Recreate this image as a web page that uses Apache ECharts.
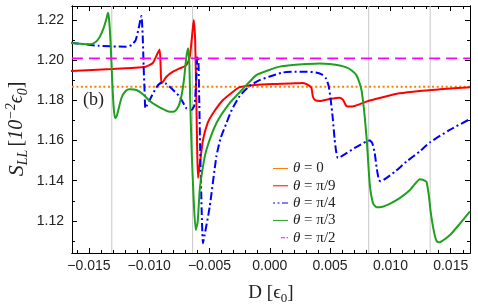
<!DOCTYPE html>
<html>
<head>
<meta charset="utf-8">
<script src="https://cdn.jsdelivr.net/npm/echarts@6/dist/echarts.min.js"></script>
<style>
  html, body { margin: 0; padding: 0; background: #fff; }
  #chart { width: 478px; height: 308px; }
</style>
</head>
<body>
<div id="chart"></div>
<script>
var xMajor = [-0.015, -0.01, -0.005, 0, 0.005, 0.01, 0.015];
var xMinor = [-0.016, -0.014, -0.013, -0.012, -0.011, -0.009, -0.008, -0.007, -0.006, -0.004, -0.003, -0.002, -0.001,
  0.001, 0.002, 0.003, 0.004, 0.006, 0.007, 0.008, 0.009, 0.011, 0.012, 0.013, 0.014, 0.016];
var yMajor = [1.12, 1.14, 1.16, 1.18, 1.2, 1.22];
var yMinor = [1.11, 1.13, 1.15, 1.17, 1.19, 1.21];
var vLines = [-0.0131, -0.0064, 0.0082, 0.0133];

var theta0 = 1.1868;
var theta90 = 1.2009;

var theta20 = [
  [-0.0165, 1.1946], [-0.0131, 1.1956], [-0.0103, 1.1968], [-0.0097, 1.1986], [-0.00929, 1.2036],
  [-0.00913, 1.2054], [-0.00905, 1.1968], [-0.00899, 1.1885], [-0.00885, 1.1893], [-0.00857, 1.1918],
  [-0.00803, 1.1943], [-0.00747, 1.1959], [-0.00692, 1.1976], [-0.00664, 1.2016], [-0.00648, 1.21],
  [-0.00631, 1.22], [-0.00619, 1.21], [-0.00609, 1.1802], [-0.00602, 1.1553], [-0.00595, 1.1414],
  [-0.00581, 1.1479], [-0.00554, 1.1603], [-0.00515, 1.1688], [-0.00471, 1.1736], [-0.00388, 1.1802],
  [-0.00305, 1.1843], [-0.0025, 1.1866], [-0.00125, 1.1877], [0.00027, 1.1882], [0.00165, 1.1884],
  [0.00275, 1.1887], [0.00317, 1.1877], [0.00345, 1.1862], [0.00358, 1.1817], [0.00381, 1.18],
  [0.00414, 1.1797], [0.00497, 1.1807], [0.0058, 1.1813], [0.00607, 1.1802], [0.00635, 1.1772],
  [0.00663, 1.1769], [0.00704, 1.1772], [0.00801, 1.1794], [0.00911, 1.1812], [0.01077, 1.1835],
  [0.01243, 1.1847], [0.01409, 1.1855], [0.0166, 1.1866]
];

var theta45 = [
  [-0.0165, 1.2087], [-0.01419, 1.2072], [-0.01189, 1.2067], [-0.01145, 1.2076], [-0.01112, 1.21],
  [-0.01087, 1.216], [-0.01065, 1.222], [-0.01054, 1.2125], [-0.01046, 1.1968], [-0.01037, 1.1827],
  [-0.01032, 1.1761], [-0.01021, 1.1772], [-0.00996, 1.1802], [-0.0094, 1.1865], [-0.00899, 1.1888],
  [-0.00863, 1.1884], [-0.0083, 1.1868], [-0.00747, 1.1818], [-0.00692, 1.1761], [-0.0065, 1.1752],
  [-0.00631, 1.1767], [-0.00622, 1.1786], [-0.0061, 1.1901], [-0.006, 1.2021], [-0.00592, 1.2001],
  [-0.00585, 1.1802], [-0.00577, 1.1553], [-0.00565, 1.1255], [-0.00554, 1.1089], [-0.0054, 1.113],
  [-0.00498, 1.1271], [-0.00443, 1.152], [-0.00407, 1.1613], [-0.0036, 1.1686], [-0.00316, 1.1752],
  [-0.00249, 1.1822], [-0.00167, 1.1872], [-0.00084, 1.1901], [0, 1.1919], [0.00109, 1.1939],
  [0.00206, 1.1943], [0.00303, 1.1943], [0.00381, 1.1939], [0.0043, 1.1929], [0.00464, 1.1911],
  [0.00488, 1.1872], [0.00505, 1.1802], [0.00522, 1.1712], [0.00538, 1.1603], [0.00551, 1.1543],
  [0.00565, 1.1513], [0.00607, 1.1526], [0.00704, 1.1563], [0.00801, 1.1596], [0.00828, 1.16],
  [0.00849, 1.1588], [0.0087, 1.1537], [0.00886, 1.1464], [0.00905, 1.1404], [0.00919, 1.1397],
  [0.00944, 1.1404], [0.01036, 1.1444], [0.01133, 1.1495], [0.01243, 1.1546], [0.01326, 1.159],
  [0.01492, 1.1653], [0.0166, 1.1707]
];

var theta60 = [
  [-0.0165, 1.2086], [-0.01494, 1.2079], [-0.01444, 1.2091], [-0.01411, 1.2115], [-0.01378, 1.216],
  [-0.01353, 1.221], [-0.01342, 1.2236], [-0.01332, 1.22], [-0.01319, 1.2075], [-0.01307, 1.1901],
  [-0.01294, 1.1762], [-0.01283, 1.1711], [-0.01269, 1.1722], [-0.0123, 1.1812], [-0.01195, 1.1847],
  [-0.01161, 1.1855], [-0.01106, 1.1852], [-0.01054, 1.1832], [-0.00996, 1.1797], [-0.00913, 1.1765],
  [-0.0083, 1.1743], [-0.00789, 1.1745], [-0.00756, 1.1772], [-0.00731, 1.1827], [-0.0071, 1.1911],
  [-0.00693, 1.2011], [-0.00678, 1.2059], [-0.00668, 1.2001], [-0.0066, 1.1802], [-0.00648, 1.1553],
  [-0.00631, 1.1304], [-0.00614, 1.1155], [-0.00598, 1.1195], [-0.00581, 1.1354], [-0.00556, 1.1464],
  [-0.00526, 1.1553], [-0.00443, 1.1686], [-0.00333, 1.1786], [-0.00222, 1.1858], [-0.00111, 1.1926],
  [-0.00017, 1.1949], [0.00082, 1.1968], [0.0019, 1.1976], [0.00303, 1.1981], [0.00414, 1.1984],
  [0.00497, 1.1981], [0.0058, 1.1974], [0.00635, 1.1964], [0.00679, 1.1949], [0.00718, 1.1926],
  [0.00741, 1.1892], [0.0076, 1.1852], [0.00774, 1.1792], [0.00787, 1.1719], [0.00804, 1.1603],
  [0.0082, 1.1454], [0.00832, 1.1364], [0.00856, 1.1288], [0.00886, 1.1268], [0.00911, 1.1268],
  [0.00994, 1.1285], [0.01077, 1.1313], [0.0116, 1.1352], [0.01218, 1.1394], [0.01243, 1.1407],
  [0.01268, 1.1405], [0.01299, 1.1394], [0.01318, 1.1329], [0.01334, 1.1245], [0.01355, 1.1165],
  [0.01376, 1.111], [0.01395, 1.1093], [0.01417, 1.1095], [0.01492, 1.1128], [0.01575, 1.1185],
  [0.0166, 1.1247]
];

var xMin = -0.0164, xMax = 0.0166;
var yMin = 1.104, yMax = 1.227;

var chartDom = document.getElementById("chart");
var chart = echarts.init(chartDom, null, { renderer: "canvas" });

var sans = "Liberation Sans";
var serif = "Liberation Serif";

function xLabel(v) {
  return v.toFixed(3).replace("-", "\u2212");
}

function makeX(pos, ticks, len, labels) {
  return {
    type: "value", position: pos, min: xMin, max: xMax,
    axisLine: { show: true, onZero: false, lineStyle: { color: "#000", width: 1 } },
    axisTick: { show: true, inside: true, length: len, customValues: ticks, lineStyle: { color: "#000" } },
    axisLabel: labels ? {
      show: true, customValues: xMajor, formatter: xLabel, margin: 6,
      fontFamily: sans, fontSize: 14, color: "#222"
    } : { show: false },
    splitLine: { show: false }
  };
}

function makeY(pos, ticks, len, labels) {
  return {
    type: "value", position: pos, min: yMin, max: yMax,
    axisLine: { show: true, onZero: false, lineStyle: { color: "#000", width: 1 } },
    axisTick: { show: true, inside: true, length: len, customValues: ticks, lineStyle: { color: "#000" } },
    axisLabel: labels ? {
      show: true, customValues: yMajor, formatter: function (v) { return v.toFixed(2); },
      margin: 8, fontFamily: sans, fontSize: 14, color: "#222"
    } : { show: false },
    splitLine: { show: false }
  };
}

function curve(name, data, color, type, width) {
  return {
    name: name, type: "line", data: data, xAxisIndex: 0, yAxisIndex: 0,
    showSymbol: false, symbol: "none", smooth: 0.2,
    lineStyle: { color: color, width: width, type: type },
    itemStyle: { color: color },
    emphasis: { disabled: true }, silent: true, animation: false, z: 3
  };
}

var series = [];
// thin gray guide lines at the resonance positions
vLines.forEach(function (v) {
  series.push({
    type: "line", data: [[v, yMin], [v, yMax]], xAxisIndex: 0, yAxisIndex: 0,
    showSymbol: false, symbol: "none", silent: true, animation: false, z: 1,
    lineStyle: { color: "#c8c8c8", width: 1 }
  });
});
series.push(
  curve("0", [[xMin, theta0], [xMax, theta0]], "#ff8000", [2, 2.5], 1.8),
  curve("\u03c0/9", theta20, "#ff0000", "solid", 2),
  curve("\u03c0/4", theta45, "#0000ff", [8, 3, 2, 3], 2),
  curve("\u03c0/3", theta60, "#1fa01f", "solid", 2),
  curve("\u03c0/2", [[xMin, theta90], [xMax, theta90]], "#ff00ff", [11, 6], 1.6)
);

// legend swatches: short bars, dash patterns for the broken styles
var barIcon = "path://M0,0h15v1h-15z";
var legendData = [
  { name: "0", icon: barIcon },
  { name: "\u03c0/9", icon: barIcon },
  { name: "\u03c0/4", icon: "path://M0,0h2v1h-2z M4.5,0h2v1h-2z M9,0h6v1h-6z" },
  { name: "\u03c0/3", icon: barIcon },
  { name: "\u03c0/2", icon: "path://M0,0h0.05v1h-0.05z M8,0h4v1h-4z M13.5,0h1.5v1h-1.5z" }
];

var option = {
  animation: false,
  grid: { left: 72, right: 8, top: 6, bottom: 55, containLabel: false },
  xAxis: [
    makeX("bottom", xMajor, 5, true),
    makeX("bottom", xMinor, 3, false),
    makeX("top", xMajor, 5, false),
    makeX("top", xMinor, 3, false)
  ],
  yAxis: [
    makeY("left", yMajor, 5, true),
    makeY("left", yMinor, 3, false),
    makeY("right", yMajor, 5, false),
    makeY("right", yMinor, 3, false)
  ],
  legend: {
    orient: "vertical", left: 268, top: 156,
    itemWidth: 15, itemHeight: 3.2, itemGap: 2.3,
    selectedMode: false,
    data: legendData,
    formatter: function (name) {
      return "{i|\u03b8} = " + name;
    },
    textStyle: {
      fontFamily: serif, fontSize: 15, lineHeight: 15, color: "#222",
      rich: { i: { fontFamily: serif, fontSize: 15, lineHeight: 15, fontStyle: "italic", color: "#222" } }
    }
  },
  graphic: [
    {
      type: "text", left: 83, top: 91,
      style: { text: "(b)", font: "18px 'Liberation Serif'", fill: "#222" }
    },
    {
      type: "text", x: 17, y: 129, rotation: Math.PI / 2,
      style: {
        text: "{s|S}{sub|LL} {m|[}{i|10}{sup|\u22122}{i|\u03f5}{sub|0}{m|]}",
        align: "center", verticalAlign: "middle", fill: "#222",
        rich: {
          s: { fontFamily: serif, fontStyle: "italic", fontSize: 22, lineHeight: 26, verticalAlign: "middle" },
          m: { fontFamily: serif, fontSize: 20, lineHeight: 26, verticalAlign: "middle" },
          i: { fontFamily: serif, fontStyle: "italic", fontSize: 20, lineHeight: 26, verticalAlign: "middle" },
          sub: { fontFamily: serif, fontStyle: "italic", fontSize: 14, lineHeight: 26, verticalAlign: "bottom" },
          sup: { fontFamily: serif, fontStyle: "italic", fontSize: 14, lineHeight: 26, verticalAlign: "top" }
        }
      }
    },
    {
      type: "text", x: 271, y: 293,
      style: {
        text: "{m|D [\u03f5}{sub|0}{m|]}",
        align: "center", verticalAlign: "middle", fill: "#222",
        rich: {
          m: { fontFamily: serif, fontSize: 19, lineHeight: 24, verticalAlign: "middle" },
          sub: { fontFamily: serif, fontSize: 13, lineHeight: 24, verticalAlign: "bottom" }
        }
      }
    }
  ],
  series: series
};

chart.setOption(option);
</script>
</body>
</html>
